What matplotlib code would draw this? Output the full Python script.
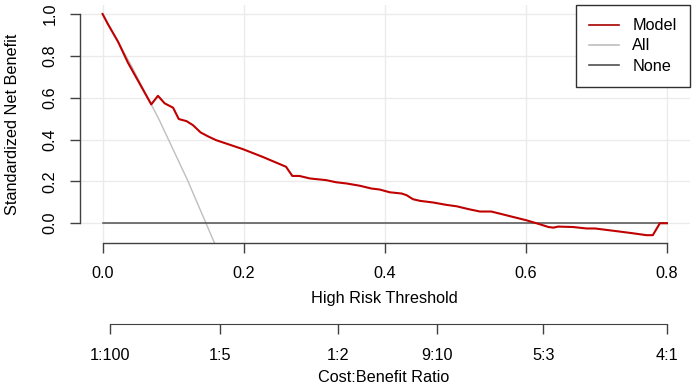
import matplotlib
matplotlib.use("Agg")
import matplotlib.pyplot as plt

plt.rcParams['font.family'] = ['Liberation Sans', 'DejaVu Sans']

# ---- data ----
model_thr = [0.0, 0.0075, 0.022, 0.036, 0.069, 0.0785, 0.088, 0.100, 0.108, 0.119,
             0.128, 0.139, 0.149, 0.161, 0.199, 0.227, 0.260, 0.269, 0.279, 0.294,
             0.317, 0.331, 0.346, 0.365, 0.381, 0.393, 0.407, 0.424, 0.431, 0.440,
             0.450, 0.469, 0.487, 0.502, 0.518, 0.535, 0.551, 0.563, 0.582, 0.601,
             0.620, 0.632, 0.639, 0.646, 0.667, 0.686, 0.698, 0.729, 0.752, 0.771,
             0.780, 0.790, 0.800]
model_nb = [1.0, 0.952, 0.867, 0.767, 0.568, 0.609, 0.573, 0.552, 0.498, 0.488,
            0.469, 0.434, 0.416, 0.397, 0.354, 0.317, 0.270, 0.226, 0.226, 0.214,
            0.206, 0.196, 0.190, 0.179, 0.166, 0.161, 0.148, 0.142, 0.134, 0.115,
            0.107, 0.099, 0.088, 0.081, 0.068, 0.056, 0.056, 0.046, 0.030, 0.014,
            -0.005, -0.018, -0.021, -0.016, -0.018, -0.025, -0.025, -0.038, -0.048, -0.057,
            -0.057, 0.0, 0.0]
all_thr = [0.0, 0.04, 0.08, 0.12, 0.16, 0.20]
all_nb = [1.0, 0.758, 0.496, 0.209, -0.105, -0.45]
none_thr = [0.0, 0.8]
none_nb = [0.0, 0.0]

x_ticks = [0.0, 0.2, 0.4, 0.6, 0.8]
x_ticklabels = ["0.0", "0.2", "0.4", "0.6", "0.8"]
y_ticks = [0.0, 0.2, 0.4, 0.6, 0.8, 1.0]
y_ticklabels = ["0.0", "0.2", "0.4", "0.6", "0.8", "1.0"]
cb_labels = ["1:100", "1:5", "1:2", "9:10", "5:3", "4:1"]
cb_cost = [1, 1, 1, 9, 5, 4]
cb_benefit = [100, 5, 2, 10, 3, 1]
series_names = ["Model", "All", "None"]

FS = 11.7

# ---- figure ----
W, H = 692, 385
fig = plt.figure(figsize=(W / 100, H / 100), dpi=100)

def px(l, t, r, b):
    return [l / W, 1 - b / H, (r - l) / W, (b - t) / H]

ax = fig.add_axes(px(80, 5.2, 689.5, 242.5))
ax.set_xlim(-0.032, 0.832)
ax.set_ylim(-0.092, 1.042)

grid_c = '#EBEBEB'
for v in x_ticks:
    ax.axvline(v, color=grid_c, lw=1, zorder=0)
for v in y_ticks:
    ax.axhline(v, color=grid_c, lw=1, zorder=0)

model_c = '#C00000'
all_c = '#BEBEBE'
none_c = '#505050'
ax.plot(all_thr, all_nb, color=all_c, lw=1, label=series_names[1], zorder=2)
ax.plot(none_thr, none_nb, color=none_c, lw=1.1, label=series_names[2], zorder=2)
ax.plot(model_thr, model_nb, color=model_c, lw=1.5, label=series_names[0], zorder=3)

axis_c = '#404040'
for s in ['top', 'right']:
    ax.spines[s].set_visible(False)
ax.spines['left'].set_bounds(0, 1)
ax.spines['bottom'].set_bounds(0, 0.8)
for s in ['left', 'bottom']:
    ax.spines[s].set_color(axis_c)
    ax.spines[s].set_linewidth(1)

ax.set_xticks(x_ticks)
ax.set_xticklabels(x_ticklabels)
ax.set_yticks(y_ticks)
ax.set_yticklabels(y_ticklabels, rotation=90, va='center')
ax.tick_params(axis='both', length=7.5, width=1, color=axis_c, labelsize=FS, labelcolor='black')
ax.tick_params(axis='x', pad=9.5)
ax.tick_params(axis='y', pad=8.5)

handles, labels = ax.get_legend_handles_labels()
order = [2, 0, 1]
leg = ax.legend([handles[i] for i in order], [labels[i] for i in order],
                loc='upper right', bbox_to_anchor=(1.0, 1.0), borderaxespad=0,
                fancybox=False, framealpha=1, edgecolor='#303030', fontsize=FS,
                handlelength=1.85, handletextpad=0.8, labelspacing=0.32,
                borderpad=0.8)
leg.get_frame().set_linewidth(1)
for line in leg.get_lines():
    line.set_linewidth(1.2)
leg.get_lines()[0].set_color('#A80000')

fig.text(384 / W, 1 - 303.5 / H, "High Risk Threshold", ha='center', va='baseline', fontsize=FS)
fig.text(13 / W, 1 - 124 / H, "Standardized Net Benefit", ha='center', va='center',
         rotation=90, fontsize=FS)

# cost:benefit axis
cb_pos = [c / (c + b) for c, b in zip(cb_cost, cb_benefit)]
ax2 = fig.add_axes(px(80, 300, 689.5, 324))
ax2.set_xlim(-0.032, 0.832)
ax2.patch.set_visible(False)
for s in ['top', 'right', 'left']:
    ax2.spines[s].set_visible(False)
ax2.spines['bottom'].set_bounds(cb_pos[0], cb_pos[-1])
ax2.spines['bottom'].set_color(axis_c)
ax2.set_yticks([])
ax2.set_xticks(cb_pos)
ax2.set_xticklabels(cb_labels)
ax2.tick_params(axis='x', length=7.5, width=1, color=axis_c, labelsize=FS, pad=10)
fig.text(384 / W, 1 - 382 / H, "Cost:Benefit Ratio", ha='center', va='baseline', fontsize=FS)

fig.savefig("out.png", dpi=100)
